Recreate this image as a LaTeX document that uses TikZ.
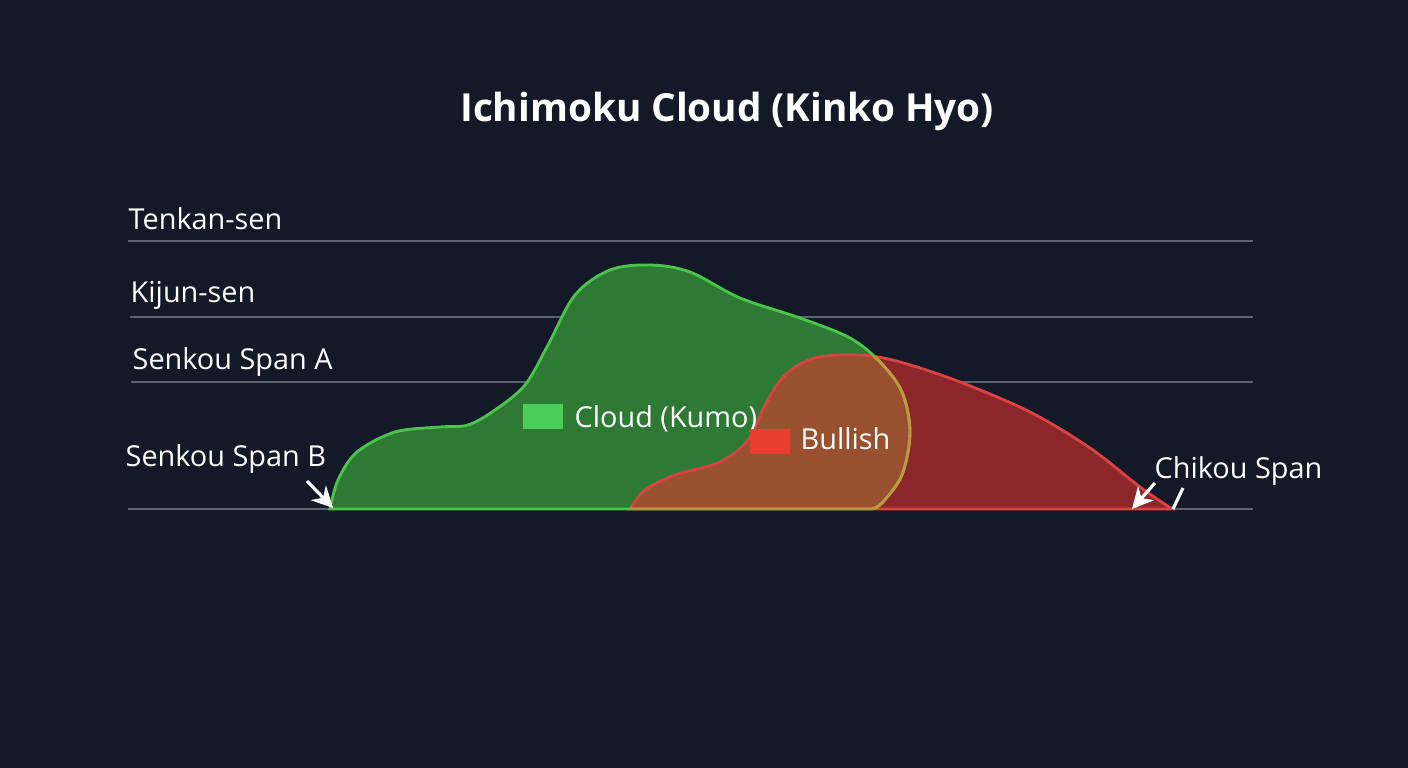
\documentclass[tikz,border=0pt]{standalone}
\usepackage{fontspec}
\setmainfont{Open Sans}
\usepackage{tikz}
\usetikzlibrary{arrows.meta}
\definecolor{bgdark}{RGB}{19, 25, 38}
\definecolor{gridline}{RGB}{92, 98, 112}
\definecolor{kumoG}{RGB}{46, 122, 52}
\definecolor{kumoGedge}{RGB}{76, 196, 76}
\definecolor{kumoR}{RGB}{140, 38, 42}
\definecolor{kumoRedge}{RGB}{214, 68, 68}
\definecolor{kumoO}{RGB}{152, 80, 46}
\definecolor{kumoOedge}{RGB}{196, 150, 64}
\definecolor{keyG}{RGB}{74, 208, 90}
\definecolor{keyR}{RGB}{232, 64, 48}

\tikzset{
  lvl/.style={draw=gridline, line width=0.6pt},
  lbl/.style={anchor=west, text=white, inner sep=0pt, font=\fontsize{8.2}{10}\selectfont},
  ptr/.style={draw=white, line width=0.9pt, -{Stealth[length=6pt, width=6pt]}},
}

\begin{document}
\begin{tikzpicture}[x=0.01cm, y=-0.01cm, >=Stealth]
  \fill[bgdark] (0,0) rectangle (1408,768);

  % cloud outlines
  \def\greenkumo{plot[smooth, tension=0.55] coordinates {(330,509) (338,480) (357,452) (395,432) (440,427) (468,425) (495,410) (525,385) (548,345) (575,295) (610,270) (650,265) (690,272) (740,298) (800,318) (850,338) (880,362) (902,392) (910,432) (902,475) (882,503) (872,509)} -- cycle}
  \def\redkumo{plot[smooth, tension=0.55] coordinates {(630,509) (645,490) (675,475) (720,462) (748,440) (765,405) (785,375) (815,358) (860,355) (900,362) (960,382) (1030,412) (1090,448) (1140,487) (1172,509)} -- cycle}

  % reference levels
  \coordinate (tkL) at (128,241);  \coordinate (tkR) at (1253,241);
  \coordinate (kjL) at (130,317);  \coordinate (kjR) at (1253,317);
  \coordinate (saL) at (131,382);  \coordinate (saR) at (1253,382);
  \coordinate (sbL) at (128,509);  \coordinate (sbR) at (1253,509);
  \draw[lvl] (tkL) -- (tkR);
  \draw[lvl] (kjL) -- (kjR);
  \draw[lvl] (saL) -- (saR);
  \draw[lvl] (sbL) -- (sbR);

  % Green cloud
  \fill[kumoG] \greenkumo;
  % Red cloud
  \fill[kumoR] \redkumo;
  % Overlap
  \begin{scope}
    \clip \greenkumo;
    \fill[kumoO] \redkumo;
  \end{scope}

  \draw[kumoRedge, line width=0.8pt] \redkumo;
  \draw[kumoGedge, line width=0.8pt] \greenkumo;
  \begin{scope}
    \clip \redkumo;
    \draw[kumoOedge, line width=0.8pt] \greenkumo;
  \end{scope}

  % title
  \node[text=white, font=\fontsize{11}{13}\selectfont\bfseries] (title) at (727,111) {Ichimoku Cloud (Kinko Hyo)};

  % line labels
  \node[lbl] (tenkan) at (128,219) {Tenkan-sen};
  \node[lbl] (kijun) at (130,295) {Kijun-sen};
  \node[lbl] (spanA) at (132,362) {Senkou Span A};
  \node[lbl] (spanB) at (125,459) {Senkou Span B};
  \node[lbl] (chikou) at (1154,471) {Chikou Span};

  % legend
  \node[fill=keyG, inner sep=0pt, minimum width=0.4cm, minimum height=0.25cm] (keyCloud) at (543,417) {};
  \node[lbl] (cloudTxt) at (574,419) {Cloud (Kumo)};
  \node[fill=keyR, inner sep=0pt, minimum width=0.4cm, minimum height=0.25cm] (keyBull) at (770,442) {};
  \node[lbl] (bullTxt) at (800,439) {Bullish};

  % pointers
  \coordinate (bTail) at (307,481);  \coordinate (bTip) at (333,508);
  \coordinate (cTail) at (1155,483); \coordinate (cTip) at (1132,509);
  \coordinate (dTop) at (1183,488);  \coordinate (dBot) at (1173,509);
  \draw[ptr] (bTail) -- (bTip);
  \draw[ptr] (cTail) -- (cTip);
  \draw[draw=white, line width=0.9pt] (dTop) -- (dBot);
\end{tikzpicture}
\end{document}
